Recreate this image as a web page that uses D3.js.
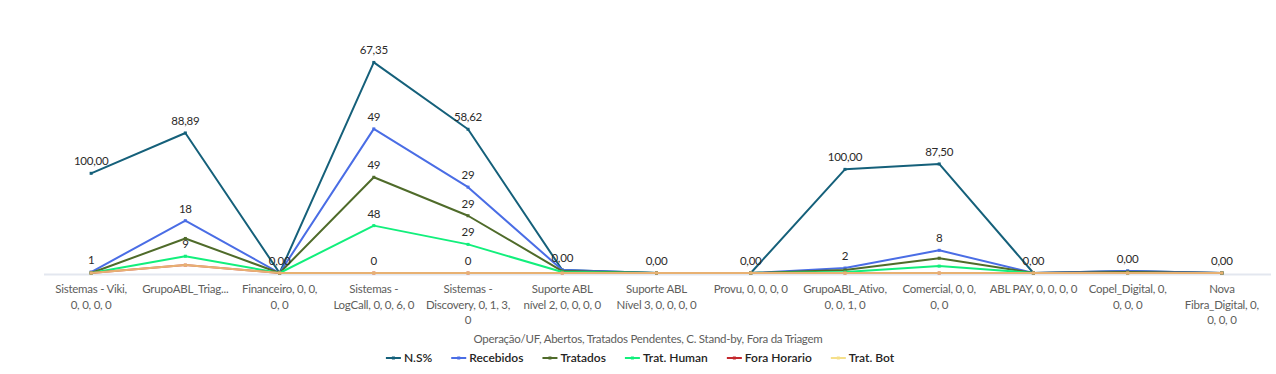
<!DOCTYPE html>
<html lang="pt">
<head>
<meta charset="utf-8">
<title>Operação/UF</title>
<script src="https://d3js.org/d3.v7.min.js"></script>
<style>
  body { margin: 0; background: #fff; }
  text { font-family: Lato, "Open Sans", sans-serif; }
  .lbl { font-size: 11.5px; letter-spacing: -0.25px; }
</style>
</head>
<body>
<script>
// categories (x axis) and their displayed tick labels
var categories = ["Sistemas - Viki", "GrupoABL_Triagem", "Financeiro", "Sistemas - LogCall",
  "Sistemas - Discovery", "Suporte ABL nível 2", "Suporte ABL Nível 3", "Provu",
  "GrupoABL_Ativo", "Comercial", "ABL PAY", "Copel_Digital", "Nova Fibra_Digital"];
var tickLabels = [
  ["Sistemas - Viki,", "0, 0, 0, 0"],
  ["GrupoABL_Triag..."],
  ["Financeiro, 0, 0,", "0, 0"],
  ["Sistemas -", "LogCall, 0, 0, 6, 0"],
  ["Sistemas -", "Discovery, 0, 1, 3,", "0"],
  ["Suporte ABL", "nível 2, 0, 0, 0, 0"],
  ["Suporte ABL", "Nível 3, 0, 0, 0, 0"],
  ["Provu, 0, 0, 0, 0"],
  ["GrupoABL_Ativo,", "0, 0, 1, 0"],
  ["Comercial, 0, 0,", "0, 0"],
  ["ABL PAY, 0, 0, 0, 0"],
  ["Copel_Digital, 0,", "0, 0, 0"],
  ["Nova", "Fibra_Digital, 0,", "0, 0, 0"]
];

// series values (stacked)
var ns         = [100, 88.89, 0, 67.35, 58.62, 0, 0, 0, 100, 87.5, 0, 0, 0];
var recebidos  = [1, 18, 0, 49, 29, 1, 0, 0, 2, 8, 0, 1, 0];
var tratados   = [0, 18, 0, 49, 29, 1, 0, 0, 2, 8, 0, 1, 0];
var tratHuman  = [0, 9, 0, 48, 29, 1, 0, 0, 1, 7, 0, 0, 0];
var foraHorario= [0, 0, 0, 0, 0, 0, 0, 0, 0, 0, 0, 0, 0];
var tratBot    = [0, 8, 0, 0, 0, 0, 0, 0, 0, 0, 0, 0, 0];

var seriesNames  = ["N.S%", "Recebidos", "Tratados", "Trat. Human", "Fora Horario", "Trat. Bot"];
var seriesValues = [ns, recebidos, tratados, tratHuman, foraHorario, tratBot];
var seriesColors = ["#15607a", "#4a6de5", "#4f6b2a", "#12ef7c", "#c4282d", "#f5df8a"];

var title = "Operação/UF, Abertos, Tratados Pendentes, C. Stand-by, Fora da Triagem";

var width = 1276, height = 374;
var margin = {left: 44, right: 7};

var svg = d3.select("body").append("svg")
  .attr("width", width).attr("height", height);

// stack from the bottom (Trat. Bot) up to N.S%
var rows = categories.map(function(c, i) {
  var r = {cat: c};
  seriesNames.forEach(function(n, j) { r[n] = seriesValues[j][i]; });
  return r;
});
var stackKeys = seriesNames.slice().reverse();
var stacked = d3.stack().keys(stackKeys)(rows);
var byName = {};
stacked.forEach(function(s) { byName[s.key] = s; });

var x = d3.scaleBand().domain(categories).range([margin.left, width - margin.right]);
var y = d3.scaleLinear().domain([0, 230]).range([273, 46]);
var cx = function(c) { return x(c) + x.bandwidth() / 2; };

// baseline
svg.append("line")
  .attr("x1", margin.left).attr("x2", width - 5)
  .attr("y1", y(0) + 1.5).attr("y2", y(0) + 1.5)
  .attr("stroke", "#e3e7ef").attr("stroke-width", 2);

var line = d3.line()
  .x(function(d) { return cx(d.data.cat); })
  .y(function(d) { return y(d[1]); });

seriesNames.forEach(function(n, j) {
  var s = byName[n];
  var g = svg.append("g").attr("opacity", n === "Trat. Bot" ? 0.75 : 1);
  g.append("path")
    .datum(s)
    .attr("d", line)
    .attr("fill", "none")
    .attr("stroke", seriesColors[j])
    .attr("stroke-width", 2)
    .attr("stroke-linejoin", "round");
  g.selectAll("rect")
    .data(s)
    .enter().append("rect")
    .attr("x", function(d) { return cx(d.data.cat) - 1.5; })
    .attr("y", function(d) { return y(d[1]) - 1.5; })
    .attr("width", 3).attr("height", 3)
    .attr("fill", seriesColors[j]);
});

// data labels with simple vertical collision hiding
var fmtPct = function(v) { return d3.format(".2f")(v).replace(".", ","); };
categories.forEach(function(c, i) {
  var placed = [];
  seriesNames.forEach(function(n, j) {
    var d = byName[n][i];
    var ly = y(d[1]) - 12;
    var hit = placed.some(function(p) { return Math.abs(p - ly) < 25; });
    if (hit) return;
    placed.push(ly);
    svg.append("text")
      .attr("class", "lbl")
      .attr("x", cx(c))
      .attr("y", ly + 4)
      .attr("text-anchor", "middle")
      .attr("fill", "#2b2a29")
      .text(j === 0 ? fmtPct(seriesValues[j][i]) : seriesValues[j][i]);
  });
});

// x axis tick labels
var ticks = svg.append("g");
categories.forEach(function(c, i) {
  var t = ticks.append("text")
    .attr("class", "lbl")
    .attr("text-anchor", "middle")
    .attr("fill", "#605e5c");
  tickLabels[i].forEach(function(l, k) {
    t.append("tspan").attr("x", cx(c)).attr("y", 293 + k * 15.5).text(l);
  });
});

// axis title
svg.append("text")
  .attr("class", "lbl")
  .attr("x", 648).attr("y", 343)
  .attr("text-anchor", "middle")
  .attr("fill", "#605e5c")
  .text(title);

// legend
var legend = svg.append("g");
var lx = 0;
seriesNames.forEach(function(n, j) {
  var it = legend.append("g").attr("transform", "translate(" + lx + ",0)");
  it.append("line").attr("x1", 0).attr("x2", 15).attr("y1", 0).attr("y2", 0)
    .attr("stroke", seriesColors[j]).attr("stroke-width", 2);
  it.append("rect").attr("x", 6).attr("y", -1.5).attr("width", 3).attr("height", 3)
    .attr("fill", seriesColors[j]);
  var t = it.append("text").attr("x", 18).attr("y", 4)
    .attr("font-size", 12).attr("font-weight", 600).attr("fill", "#252423").text(n);
  lx += 18 + t.node().getComputedTextLength() + 19;
});
lx -= 19;
legend.attr("transform", "translate(" + (640 - lx / 2) + ",358)");
</script>
</body>
</html>
